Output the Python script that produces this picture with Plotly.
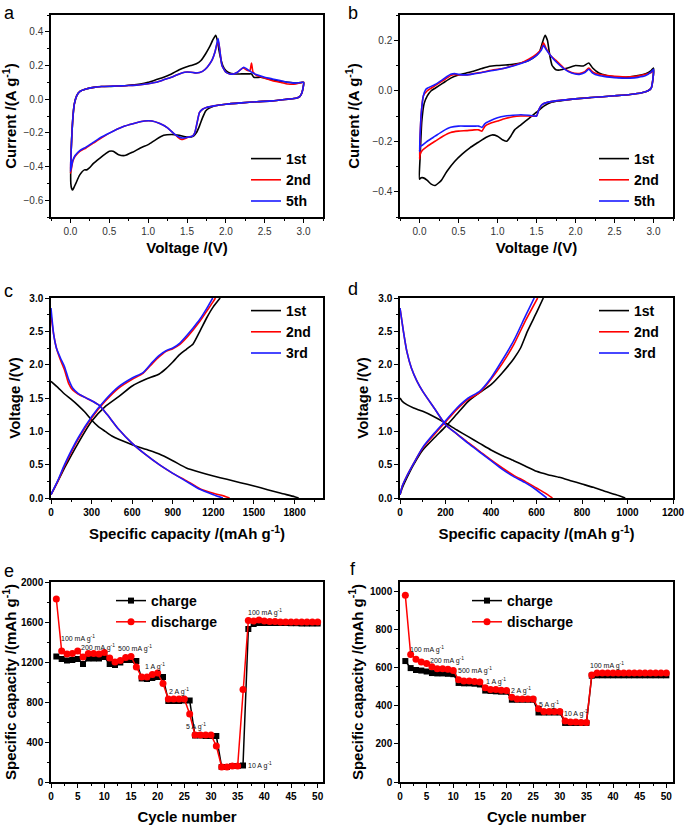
import plotly.graph_objects as go

# ---------------- Panel a: CV curves (V, I) ----------------
a_1st_V = [3.0, 2.98, 2.95, 2.9, 2.8, 2.6, 2.4, 2.2, 2.0, 1.85, 1.78, 1.74, 1.7, 1.66, 1.62, 1.58, 1.5, 1.4, 1.3, 1.2, 1.1, 1.0, 0.9, 0.8, 0.7, 0.62, 0.55, 0.5, 0.45, 0.38, 0.3, 0.24, 0.21, 0.18, 0.12, 0.07, 0.04, 0.03, 0.015, 0.005,
           0.01, 0.03, 0.05, 0.08, 0.12, 0.2, 0.3, 0.4, 0.5, 0.6, 0.7, 0.8, 0.9, 1.0, 1.1, 1.2, 1.3, 1.4, 1.48, 1.55, 1.62, 1.68, 1.74, 1.79, 1.83, 1.87, 1.89, 1.92, 1.96, 2.0, 2.05, 2.1, 2.2, 2.3, 2.33, 2.36, 2.45, 2.6, 2.8, 2.9, 3.0]
a_1st_I = [0.1, 0.04, 0.015, 0.005, 0.0, -0.01, -0.015, -0.022, -0.03, -0.04, -0.055, -0.07, -0.11, -0.16, -0.2, -0.22, -0.225, -0.215, -0.21, -0.215, -0.24, -0.27, -0.29, -0.315, -0.335, -0.33, -0.31, -0.31, -0.325, -0.35, -0.38, -0.41, -0.42, -0.42, -0.45, -0.5, -0.53, -0.54, -0.53, -0.5,
           -0.3, -0.12, -0.03, 0.02, 0.045, 0.06, 0.07, 0.075, 0.075, 0.078, 0.08, 0.085, 0.09, 0.1, 0.115, 0.13, 0.15, 0.175, 0.19, 0.2, 0.21, 0.23, 0.27, 0.31, 0.35, 0.38, 0.35, 0.27, 0.2, 0.17, 0.155, 0.15, 0.15, 0.15, 0.15, 0.13, 0.13, 0.115, 0.1, 0.095, 0.1]

a_2nd_V = [3.0, 2.98, 2.95, 2.9, 2.8, 2.6, 2.4, 2.2, 2.0, 1.85, 1.75, 1.7, 1.66, 1.63, 1.6, 1.57, 1.52, 1.47, 1.43, 1.38, 1.32, 1.25, 1.15, 1.05, 0.95, 0.85, 0.7, 0.55, 0.4, 0.3, 0.2, 0.12, 0.06, 0.03, 0.01, 0.0,
           0.01, 0.03, 0.05, 0.08, 0.12, 0.2, 0.3, 0.4, 0.5, 0.6, 0.7, 0.8, 0.9, 1.0, 1.1, 1.2, 1.3, 1.4, 1.47, 1.55, 1.62, 1.7, 1.76, 1.82, 1.86, 1.9, 1.92, 1.95, 2.0, 2.05, 2.1, 2.15, 2.22, 2.28, 2.31, 2.33, 2.35, 2.4, 2.5, 2.6, 2.7, 2.8, 2.9, 3.0]
a_2nd_I = [0.1, 0.04, 0.015, 0.005, 0.0, -0.01, -0.015, -0.022, -0.03, -0.04, -0.05, -0.06, -0.08, -0.14, -0.2, -0.22, -0.225, -0.235, -0.24, -0.225, -0.2, -0.17, -0.145, -0.13, -0.13, -0.14, -0.16, -0.19, -0.23, -0.26, -0.29, -0.31, -0.34, -0.37, -0.42, -0.44,
           -0.3, -0.12, -0.03, 0.02, 0.045, 0.06, 0.07, 0.075, 0.077, 0.078, 0.08, 0.082, 0.086, 0.092, 0.1, 0.115, 0.13, 0.15, 0.16, 0.16, 0.155, 0.165, 0.19, 0.23, 0.28, 0.35, 0.3, 0.2, 0.16, 0.15, 0.15, 0.16, 0.185, 0.17, 0.17, 0.215, 0.16, 0.14, 0.125, 0.11, 0.1, 0.09, 0.09, 0.1]

a_5th_V = [3.0, 2.98, 2.95, 2.9, 2.8, 2.6, 2.4, 2.2, 2.0, 1.85, 1.75, 1.7, 1.66, 1.63, 1.6, 1.57, 1.52, 1.47, 1.43, 1.38, 1.32, 1.25, 1.15, 1.05, 0.95, 0.85, 0.7, 0.55, 0.4, 0.3, 0.2, 0.12, 0.06, 0.03, 0.01, 0.0,
           0.01, 0.03, 0.05, 0.08, 0.12, 0.2, 0.3, 0.4, 0.5, 0.6, 0.7, 0.8, 0.9, 1.0, 1.1, 1.2, 1.3, 1.4, 1.47, 1.55, 1.62, 1.7, 1.76, 1.82, 1.86, 1.9, 1.92, 1.95, 2.0, 2.05, 2.1, 2.15, 2.23, 2.3, 2.35, 2.4, 2.5, 2.6, 2.7, 2.8, 2.9, 3.0]
a_5th_I = [0.1, 0.04, 0.015, 0.005, 0.0, -0.01, -0.015, -0.022, -0.03, -0.04, -0.05, -0.06, -0.08, -0.14, -0.2, -0.22, -0.225, -0.23, -0.23, -0.22, -0.2, -0.17, -0.145, -0.13, -0.13, -0.14, -0.16, -0.19, -0.225, -0.255, -0.285, -0.305, -0.335, -0.365, -0.41, -0.43,
           -0.3, -0.12, -0.03, 0.02, 0.045, 0.06, 0.07, 0.075, 0.077, 0.078, 0.08, 0.082, 0.086, 0.092, 0.1, 0.115, 0.13, 0.15, 0.16, 0.16, 0.155, 0.165, 0.19, 0.23, 0.28, 0.36, 0.3, 0.2, 0.16, 0.15, 0.15, 0.16, 0.19, 0.17, 0.155, 0.145, 0.13, 0.12, 0.11, 0.1, 0.095, 0.1]

# ---------------- Panel b: CV curves ----------------
b_1st_V = [3.0, 2.99, 2.97, 2.93, 2.85, 2.7, 2.5, 2.2, 2.0, 1.8, 1.7, 1.6, 1.5, 1.4, 1.3, 1.22, 1.17, 1.12, 1.07, 1.0, 0.93, 0.85, 0.75, 0.65, 0.55, 0.45, 0.35, 0.28, 0.2, 0.15, 0.1, 0.05, 0.02, 0.0,
           0.01, 0.03, 0.06, 0.1, 0.15, 0.2, 0.3, 0.4, 0.5, 0.6, 0.7, 0.8, 0.9, 1.0, 1.1, 1.2, 1.3, 1.4, 1.48, 1.54, 1.58, 1.61, 1.64, 1.67, 1.7, 1.75, 1.8, 1.9, 2.0, 2.1, 2.17, 2.22, 2.3, 2.4, 2.5, 2.6, 2.7, 2.8, 2.9, 2.97, 3.0]
b_1st_I = [0.09, 0.04, 0.01, 0.0, -0.008, -0.015, -0.02, -0.027, -0.032, -0.04, -0.045, -0.06, -0.085, -0.11, -0.135, -0.155, -0.18, -0.2, -0.195, -0.18, -0.175, -0.185, -0.205, -0.225, -0.25, -0.28, -0.32, -0.355, -0.375, -0.37, -0.355, -0.345, -0.345, -0.35,
           -0.25, -0.12, -0.05, -0.02, 0.0, 0.01, 0.03, 0.05, 0.062, 0.07, 0.078, 0.088, 0.097, 0.1, 0.102, 0.105, 0.11, 0.12, 0.135, 0.155, 0.195, 0.22, 0.2, 0.14, 0.1, 0.083, 0.082, 0.09, 0.1, 0.098, 0.11, 0.09, 0.07, 0.06, 0.055, 0.053, 0.055, 0.06, 0.067, 0.08, 0.09]

b_2nd_V = [3.0, 2.99, 2.97, 2.93, 2.85, 2.7, 2.5, 2.2, 2.0, 1.8, 1.65, 1.57, 1.53, 1.5, 1.4, 1.3, 1.2, 1.1, 1.0, 0.9, 0.84, 0.8, 0.76, 0.7, 0.6, 0.5, 0.4, 0.3, 0.2, 0.1, 0.04, 0.01, 0.0,
           0.02, 0.05, 0.1, 0.2, 0.3, 0.4, 0.45, 0.5, 0.6, 0.7, 0.8, 0.9, 1.0, 1.1, 1.2, 1.3, 1.4, 1.5, 1.56, 1.59, 1.62, 1.68, 1.75, 1.85, 1.95, 2.05, 2.12, 2.17, 2.22, 2.3, 2.4, 2.5, 2.6, 2.7, 2.8, 2.9, 2.97, 3.0]
b_2nd_I = [0.08, 0.04, 0.01, 0.0, -0.008, -0.015, -0.02, -0.027, -0.032, -0.038, -0.045, -0.055, -0.075, -0.1, -0.1, -0.1, -0.103, -0.11, -0.12, -0.13, -0.14, -0.16, -0.155, -0.155, -0.158, -0.16, -0.165, -0.18, -0.2, -0.22, -0.235, -0.25, -0.27,
           -0.1, -0.02, 0.0, 0.02, 0.04, 0.06, 0.065, 0.063, 0.063, 0.068, 0.073, 0.08, 0.085, 0.09, 0.1, 0.11, 0.125, 0.145, 0.165, 0.19, 0.17, 0.14, 0.12, 0.09, 0.072, 0.068, 0.075, 0.09, 0.075, 0.065, 0.06, 0.057, 0.055, 0.055, 0.058, 0.065, 0.072, 0.08]

b_5th_V = [3.0, 2.99, 2.97, 2.93, 2.85, 2.7, 2.5, 2.2, 2.0, 1.8, 1.65, 1.57, 1.53, 1.5, 1.4, 1.3, 1.2, 1.1, 1.0, 0.9, 0.84, 0.8, 0.76, 0.7, 0.6, 0.5, 0.4, 0.3, 0.2, 0.1, 0.04, 0.01, 0.0,
           0.02, 0.05, 0.08, 0.1, 0.2, 0.3, 0.4, 0.45, 0.5, 0.6, 0.7, 0.8, 0.9, 1.0, 1.1, 1.2, 1.3, 1.4, 1.5, 1.56, 1.59, 1.62, 1.68, 1.75, 1.85, 1.95, 2.05, 2.12, 2.17, 2.22, 2.3, 2.4, 2.5, 2.6, 2.7, 2.8, 2.9, 2.97, 3.0]
b_5th_I = [0.085, 0.04, 0.01, 0.0, -0.008, -0.015, -0.02, -0.027, -0.032, -0.038, -0.045, -0.055, -0.075, -0.1, -0.097, -0.095, -0.097, -0.1, -0.107, -0.12, -0.13, -0.145, -0.14, -0.14, -0.14, -0.14, -0.145, -0.16, -0.18, -0.2, -0.215, -0.22, -0.24,
           -0.1, -0.02, 0.005, 0.01, 0.025, 0.045, 0.065, 0.068, 0.065, 0.063, 0.067, 0.072, 0.078, 0.083, 0.09, 0.098, 0.108, 0.12, 0.14, 0.16, 0.18, 0.165, 0.14, 0.115, 0.088, 0.07, 0.065, 0.072, 0.085, 0.07, 0.06, 0.055, 0.052, 0.05, 0.05, 0.053, 0.06, 0.075, 0.085]

# ---------------- Panel c: charge/discharge profiles ----------------
c_1st_dis_cap = [0, 50, 100, 150, 200, 250, 300, 350, 400, 450, 500, 600, 700, 800, 900, 1000, 1100, 1200, 1300, 1400, 1500, 1600, 1700, 1800, 1830]
c_1st_dis_V = [1.75, 1.66, 1.56, 1.48, 1.39, 1.29, 1.17, 1.07, 1.0, 0.93, 0.88, 0.8, 0.73, 0.66, 0.56, 0.45, 0.385, 0.33, 0.28, 0.23, 0.18, 0.125, 0.07, 0.02, 0.0]
c_1st_ch_cap = [0, 50, 100, 200, 300, 400, 500, 600, 700, 800, 850, 900, 950, 1000, 1050, 1100, 1150, 1200, 1250]
c_1st_ch_V = [0.05, 0.25, 0.45, 0.82, 1.15, 1.37, 1.52, 1.68, 1.78, 1.86, 1.94, 2.04, 2.15, 2.23, 2.31, 2.5, 2.7, 2.87, 3.0]
c_2nd_dis_cap = [0, 20, 40, 70, 100, 130, 160, 200, 250, 300, 350, 380, 420, 500, 600, 700, 800, 900, 1000, 1100, 1200, 1260, 1320]
c_2nd_dis_V = [2.74, 2.45, 2.25, 2.07, 1.92, 1.72, 1.62, 1.56, 1.51, 1.46, 1.4, 1.34, 1.24, 1.03, 0.82, 0.65, 0.5, 0.37, 0.26, 0.14, 0.07, 0.04, 0.0]
c_2nd_ch_cap = [0, 50, 100, 200, 300, 400, 500, 600, 680, 750, 800, 850, 900, 950, 1000, 1050, 1100, 1150, 1200, 1215]
c_2nd_ch_V = [0.05, 0.25, 0.48, 0.88, 1.2, 1.45, 1.65, 1.78, 1.87, 2.02, 2.12, 2.2, 2.24, 2.3, 2.4, 2.52, 2.65, 2.8, 2.95, 3.0]
c_3rd_dis_cap = [0, 20, 40, 70, 100, 130, 160, 200, 250, 300, 350, 380, 420, 500, 600, 700, 800, 900, 1000, 1100, 1200, 1270]
c_3rd_dis_V = [2.85, 2.45, 2.25, 2.1, 1.97, 1.78, 1.65, 1.57, 1.51, 1.46, 1.4, 1.34, 1.24, 1.03, 0.82, 0.65, 0.5, 0.37, 0.25, 0.13, 0.05, 0.0]
c_3rd_ch_cap = [0, 50, 100, 200, 300, 400, 500, 600, 680, 750, 800, 850, 900, 950, 1000, 1050, 1100, 1150, 1195]
c_3rd_ch_V = [0.05, 0.26, 0.5, 0.9, 1.22, 1.47, 1.67, 1.8, 1.88, 2.04, 2.14, 2.21, 2.25, 2.32, 2.43, 2.55, 2.68, 2.84, 3.0]

# ---------------- Panel d: charge/discharge profiles ----------------
d_1st_dis_cap = [0, 10, 30, 60, 100, 150, 200, 250, 300, 350, 400, 450, 500, 550, 600, 650, 700, 750, 800, 850, 900, 950, 990]
d_1st_dis_V = [1.5, 1.45, 1.4, 1.35, 1.3, 1.22, 1.125, 1.02, 0.92, 0.82, 0.72, 0.635, 0.56, 0.48, 0.4, 0.35, 0.31, 0.26, 0.21, 0.16, 0.1, 0.05, 0.0]
d_1st_ch_cap = [0, 10, 30, 60, 100, 150, 200, 250, 300, 350, 400, 450, 500, 530, 560, 600, 630]
d_1st_ch_V = [0.05, 0.15, 0.3, 0.5, 0.72, 0.9, 1.07, 1.26, 1.45, 1.58, 1.7, 1.88, 2.09, 2.25, 2.5, 2.78, 3.0]
d_2nd_dis_cap = [0, 15, 30, 50, 75, 100, 150, 200, 250, 300, 350, 400, 450, 500, 550, 600, 640, 670]
d_2nd_dis_V = [2.85, 2.5, 2.2, 1.95, 1.75, 1.6, 1.35, 1.1, 0.96, 0.83, 0.7, 0.57, 0.45, 0.34, 0.25, 0.15, 0.07, 0.0]
d_2nd_ch_cap = [0, 10, 30, 60, 100, 150, 200, 250, 300, 350, 400, 450, 500, 550, 605]
d_2nd_ch_V = [0.05, 0.18, 0.33, 0.52, 0.75, 0.95, 1.14, 1.33, 1.48, 1.58, 1.78, 2.02, 2.3, 2.65, 3.0]
d_3rd_dis_cap = [0, 15, 30, 50, 75, 100, 150, 200, 250, 300, 350, 400, 450, 500, 550, 600, 645]
d_3rd_dis_V = [2.85, 2.5, 2.2, 1.95, 1.75, 1.6, 1.35, 1.1, 0.96, 0.82, 0.69, 0.56, 0.43, 0.32, 0.23, 0.12, 0.0]
d_3rd_ch_cap = [0, 10, 30, 60, 100, 150, 200, 250, 300, 350, 400, 450, 500, 550, 590]
d_3rd_ch_V = [0.05, 0.18, 0.33, 0.52, 0.76, 0.97, 1.16, 1.35, 1.5, 1.6, 1.8, 2.07, 2.36, 2.72, 3.0]

# ---------------- Panels e, f: rate performance ----------------
cycles = list(range(1, 51))
e_charge = [1255, 1230, 1215, 1220, 1230, 1180, 1235, 1235, 1235, 1250, 1180, 1170, 1195, 1220, 1220, 1210, 1035, 1030, 1040, 1050,
            1050, 810, 810, 810, 815, 815, 465, 465, 460, 460, 460, 150, 150, 160, 160, 165, 1530, 1580, 1590, 1590,
            1590, 1590, 1590, 1590, 1588, 1588, 1585, 1585, 1585, 1585]
e_discharge = [1830, 1310, 1280, 1285, 1310, 1250, 1285, 1285, 1280, 1295, 1240, 1200, 1215, 1245, 1255, 1150, 1050, 1050, 1075, 1090,
               985, 830, 830, 830, 830, 680, 470, 470, 470, 470, 360, 150, 150, 160, 160, 925, 1615, 1610, 1620, 1610,
               1605, 1605, 1600, 1600, 1600, 1600, 1600, 1600, 1600, 1600]
f_charge = [635, 598, 588, 585, 580, 572, 570, 570, 568, 566, 520, 518, 518, 516, 512, 480, 478, 476, 474, 474,
            432, 432, 432, 432, 432, 365, 365, 365, 365, 365, 310, 310, 310, 310, 310, 558, 560, 560, 560, 560,
            560, 560, 560, 560, 560, 560, 560, 560, 560, 560]
f_discharge = [980, 670, 645, 630, 622, 605, 595, 595, 592, 585, 537, 530, 530, 528, 525, 495, 485, 485, 482, 480,
               445, 436, 436, 436, 436, 385, 370, 370, 370, 370, 320, 315, 315, 313, 313, 562, 572, 572, 572, 572,
               572, 572, 572, 572, 572, 572, 572, 572, 572, 572]

rate_labels = ["100 mA g<sup>-1</sup>", "200 mA g<sup>-1</sup>", "500 mA g<sup>-1</sup>", "1 A g<sup>-1</sup>",
               "2 A g<sup>-1</sup>", "5 A g<sup>-1</sup>", "10 A g<sup>-1</sup>", "100 mA g<sup>-1</sup>"]
e_label_x = [5.0, 8.9, 15.7, 19.5, 24.0, 27.2, 39.1, 40.2]
e_label_y = [1440, 1350, 1333, 1157, 907, 557, 167, 1700]
f_label_x = [5.0, 8.75, 14.1, 18.0, 22.7, 28.0, 33.0, 38.9]
f_label_y = [698, 636, 586, 528, 479, 409, 358, 610]

cv_names = ["1st", "2nd", "5th"]
gcd_names = ["1st", "2nd", "3rd"]
colors = ["#000000", "#ff0000", "#1a1aff"]

W, H = 685, 825
FONT = "Liberation Sans, Arial, sans-serif"

def px(x0, x1):
    return [x0 / W, x1 / W]

def py(y0, y1):
    return [1 - y1 / H, 1 - y0 / H]

def pt(x, y):
    return x / W, 1 - y / H

fig = go.Figure()

cv_sets = [([(a_1st_V, a_1st_I), (a_2nd_V, a_2nd_I), (a_5th_V, a_5th_I)], "x", "y", "legend"),
           ([(b_1st_V, b_1st_I), (b_2nd_V, b_2nd_I), (b_5th_V, b_5th_I)], "x2", "y2", "legend2")]
for series, xa, ya, lg in cv_sets:
    for (vv, ii), name, col in zip(series, cv_names, colors):
        fig.add_trace(go.Scatter(x=vv, y=ii, mode="lines", name=name, xaxis=xa, yaxis=ya, legend=lg,
                                 line=dict(color=col, width=1.6, shape="spline", smoothing=0.5)))

gcd_sets = [([(c_1st_dis_cap, c_1st_dis_V, c_1st_ch_cap, c_1st_ch_V),
              (c_2nd_dis_cap, c_2nd_dis_V, c_2nd_ch_cap, c_2nd_ch_V),
              (c_3rd_dis_cap, c_3rd_dis_V, c_3rd_ch_cap, c_3rd_ch_V)], "x3", "y3", "legend3", "c"),
            ([(d_1st_dis_cap, d_1st_dis_V, d_1st_ch_cap, d_1st_ch_V),
              (d_2nd_dis_cap, d_2nd_dis_V, d_2nd_ch_cap, d_2nd_ch_V),
              (d_3rd_dis_cap, d_3rd_dis_V, d_3rd_ch_cap, d_3rd_ch_V)], "x4", "y4", "legend4", "d")]
for series, xa, ya, lg, tag in gcd_sets:
    for (dc, dv, cc, cvv), name, col in zip(series, gcd_names, colors):
        fig.add_trace(go.Scatter(x=dc, y=dv, mode="lines", name=name, xaxis=xa, yaxis=ya, legend=lg,
                                 legendgroup=tag + name, showlegend=True,
                                 line=dict(color=col, width=1.6, shape="spline", smoothing=0.5)))
        fig.add_trace(go.Scatter(x=cc, y=cvv, mode="lines", name=name, xaxis=xa, yaxis=ya, legend=lg,
                                 legendgroup=tag + name, showlegend=False,
                                 line=dict(color=col, width=1.6, shape="spline", smoothing=0.5)))

for ch, dis, xa, ya, lg in [(e_charge, e_discharge, "x5", "y5", "legend5"), (f_charge, f_discharge, "x6", "y6", "legend6")]:
    fig.add_trace(go.Scatter(x=cycles, y=ch, mode="lines+markers", name="charge", xaxis=xa, yaxis=ya, legend=lg,
                             line=dict(color="#000000", width=1.5),
                             marker=dict(symbol="square", size=6, color="#000000")))
    fig.add_trace(go.Scatter(x=cycles, y=dis, mode="lines+markers", name="discharge", xaxis=xa, yaxis=ya, legend=lg,
                             line=dict(color="#ff0000", width=1.5),
                             marker=dict(symbol="circle", size=7, color="#ff0000")))

def axis(domain, rng, dtick, minor, title, bold_ticks, anchor, standoff, tickfmt=None):
    d = dict(domain=domain, range=rng, dtick=dtick, tick0=0, showline=True, mirror=True, linecolor="#000000",
             linewidth=1.5, ticks="outside", ticklen=4, tickwidth=1.2, tickcolor="#000000",
             minor=dict(dtick=minor, ticks="outside", ticklen=2.5, tickwidth=1, tickcolor="#000000"),
             showgrid=False, zeroline=False, anchor=anchor, automargin=True,
             tickfont=dict(family=FONT, size=10, color="#000000" if bold_ticks else "#333333",
                           weight="bold" if bold_ticks else "normal"),
             title=dict(text=title, standoff=standoff,
                        font=dict(family=FONT, size=15, color="#000000", weight="bold")))
    if tickfmt:
        d["tickformat"] = tickfmt
    return d

colA = px(51, 323)
colB = px(400, 673)
row1 = py(15, 217)
row2 = py(298, 498)
row3 = py(582, 782)

cur_title = "Current /(A g<sup>-1</sup>)"
cap_title = "Specific capacity /(mAh g<sup>-1</sup>)"
sc_title = "Specific capacity /(mAh g<sup>-1</sup>)"

layout = dict(
    width=W, height=H, margin=dict(l=0, r=0, t=0, b=0, autoexpand=False), paper_bgcolor="white", plot_bgcolor="white",
    font=dict(family=FONT),
    xaxis=axis(colA, [-0.25, 3.25], 0.5, 0.25, "Voltage /(V)", False, "y", 7, ".1f"),
    yaxis=axis(row1, [-0.7, 0.5], 0.2, 0.1, cur_title, False, "x", 5, ".1f"),
    xaxis2=axis(colB, [-0.25, 3.25], 0.5, 0.25, "Voltage /(V)", False, "y2", 7, ".1f"),
    yaxis2=axis(row1, [-0.5, 0.3], 0.2, 0.1, cur_title, False, "x2", 9, ".1f"),
    xaxis3=axis(colA, [0, 2010], 300, 150, cap_title, True, "y3", 12),
    yaxis3=axis(row2, [0, 3], 0.5, 0.25, "Voltage /(V)", True, "x3", 5, ".1f"),
    xaxis4=axis(colB, [0, 1200], 200, 100, cap_title, True, "y4", 12),
    yaxis4=axis(row2, [0, 3], 0.5, 0.25, "Voltage /(V)", True, "x4", 6, ".1f"),
    xaxis5=axis(colA, [0, 51], 5, 2.5, "Cycle number", True, "y5", 11),
    yaxis5=axis(row3, [0, 2000], 400, 200, sc_title, True, "x5", 3),
    xaxis6=axis(colB, [0, 51.25], 5, 2.5, "Cycle number", True, "y6", 11),
    yaxis6=axis(row3, [0, 1050], 200, 100, sc_title, True, "x6", 3),
)

def legend(x, y):
    lx, ly = pt(x, y)
    return dict(x=lx, y=ly, xanchor="left", yanchor="top", bgcolor="rgba(0,0,0,0)",
                font=dict(family=FONT, size=14, color="#000000", weight="bold"), tracegroupgap=0,
                itemwidth=30)

layout["legend"] = legend(246, 143)
layout["legend2"] = legend(594, 143)
layout["legend3"] = legend(246, 295)
layout["legend4"] = legend(594, 295)
layout["legend5"] = legend(111, 585)
layout["legend6"] = legend(467, 585)
fig.update_layout(**layout)

for letter, x, y in [("a", 2, 1), ("b", 346, 1), ("c", 2, 279), ("d", 346, 277), ("e", 2, 559), ("f", 348, 557)]:
    ax_, ay_ = pt(x, y)
    fig.add_annotation(text=letter, x=ax_, y=ay_, xref="paper", yref="paper", xanchor="left", yanchor="top",
                       showarrow=False, font=dict(family=FONT, size=18, color="#000000"))

for lab, x, y in zip(rate_labels, e_label_x, e_label_y):
    fig.add_annotation(text=lab, x=x, y=y, xref="x5", yref="y5", showarrow=False,
                       font=dict(family=FONT, size=7, color="#111111"))
for lab, x, y in zip(rate_labels, f_label_x, f_label_y):
    fig.add_annotation(text=lab, x=x, y=y, xref="x6", yref="y6", showarrow=False,
                       font=dict(family=FONT, size=7, color="#111111"))

# the page body default margin would shift the figure by 8 px; remove it
fig.write_html("out.html", config={"displayModeBar": False},
               post_script="document.body.style.margin='0';")
